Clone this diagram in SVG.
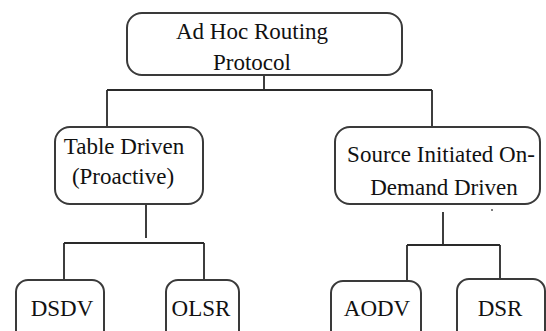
<svg xmlns="http://www.w3.org/2000/svg" width="546" height="331" viewBox="0 0 546 331">
<style>
.box{fill:#fff;stroke:#3a3a3a;stroke-width:2}
.ln{stroke:#2a2a2a;stroke-width:1.8;fill:none}
.t{font-family:'Liberation Serif','DejaVu Serif','Times New Roman',Times,serif;font-size:23px;fill:#111;text-anchor:middle}
</style>
<rect width="546" height="331" fill="#fff"/>
<g id="connectors">
<path class="ln" d="M264 75V90M107 90H432M107 90V127M432 90V127"/>
<path class="ln" d="M146 204V238M64 243H204M64 243V280M204 243V280"/>
<path class="ln" d="M443 212V245M407 245H500M407 245V281M500 245V279"/>
</g>
<g id="root">
<rect class="box" x="127" y="13" width="275" height="62" rx="15"/>
<text class="t" x="252" y="39" font-family="Liberation Serif, serif">Ad Hoc Routing</text>
<text class="t" x="252" y="70" font-family="Liberation Serif, serif">Protocol</text>
</g>
<g id="table-driven">
<rect class="box" x="55" y="127" width="148" height="77" rx="15"/>
<text class="t" x="124" y="154" font-family="Liberation Serif, serif">Table Driven</text>
<text class="t" x="123" y="184" font-family="Liberation Serif, serif">(Proactive)</text>
</g>
<g id="on-demand">
<rect class="box" x="335" y="127" width="205" height="77" rx="15"/>
<text class="t" x="441" y="162" font-family="Liberation Serif, serif">Source Initiated On-</text>
<text class="t" x="444" y="195" font-family="Liberation Serif, serif">Demand Driven</text>
</g>
<g id="dsdv">
<rect class="box" x="16" y="280" width="88" height="65" rx="12"/>
<text class="t" x="62" y="316" font-family="Liberation Serif, serif">DSDV</text>
</g>
<g id="olsr">
<rect class="box" x="166" y="280" width="73" height="65" rx="12"/>
<text class="t" x="201" y="316" font-family="Liberation Serif, serif">OLSR</text>
</g>
<g id="aodv">
<rect class="box" x="331" y="281" width="90" height="64" rx="12"/>
<text class="t" x="377" y="316" font-family="Liberation Serif, serif">AODV</text>
</g>
<g id="dsr">
<rect class="box" x="457" y="279" width="88" height="66" rx="12"/>
<text class="t" x="500" y="316" font-family="Liberation Serif, serif">DSR</text>
</g>
<circle cx="492" cy="210" r="1" fill="#555"/>
</svg>
